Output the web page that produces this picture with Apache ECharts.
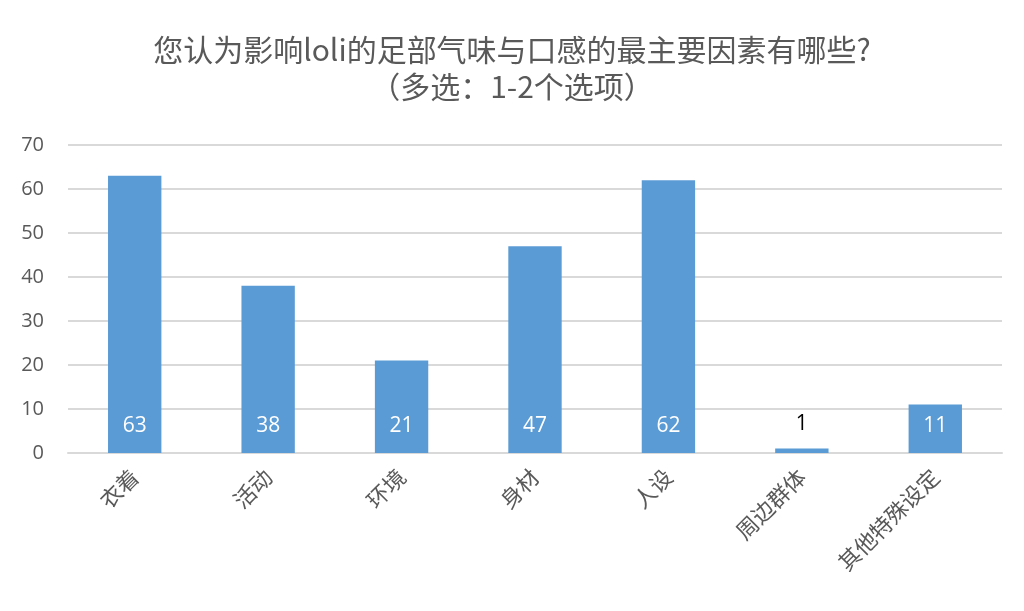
<!DOCTYPE html>
<html lang="zh">
<head>
  <meta charset="UTF-8">
  <title>影响因素</title>
  <style>
    html, body { margin: 0; padding: 0; background: #fff; }
    #box { width: 1024px; height: 611px; }
  </style>
</head>
<body>
  <div id="box"></div>
  <script src="https://cdn.jsdelivr.net/npm/echarts@6/dist/echarts.min.js"></script>
  <script>
    let categories = ['衣着', '活动', '环境', '身材', '人设', '周边群体', '其他特殊设定']
    let values = [63, 38, 21, 47, 62, 1, 11]
    let yTicks = [0, 10, 20, 30, 40, 50, 60, 70]

    let font = '"Open Sans", "Noto Sans CJK SC", sans-serif'
    let myChart = echarts.init(document.getElementById('box'))

    // small bars get the label on top in black, others inside in white
    let barData = values.map(function (v) {
      if (v < 5) {
        return { value: v, label: { position: 'top', distance: 14, color: '#000' } }
      }
      return v
    })

    let option = {
      animation: false,
      textStyle: { fontFamily: font },
      title: {
        text: '您认为影响loli的足部气味与口感的最主要因素有哪些?\n（多选：1-2个选项）',
        left: 'center',
        top: 26,
        textStyle: {
          fontSize: 30,
          fontWeight: 'normal',
          color: '#595959',
          lineHeight: 37,
          fontFamily: '"Noto Sans CJK SC", sans-serif'
        }
      },
      grid: { left: 68, right: 22, top: 145, bottom: 158 },
      xAxis: {
        type: 'category',
        data: categories,
        axisLine: { lineStyle: { color: '#d9d9d9', width: 2 } },
        axisTick: { show: false },
        axisLabel: {
          rotate: 45,
          fontSize: 22,
          color: '#595959',
          margin: 20,
          interval: 0,
          fontFamily: '"Noto Sans CJK SC", sans-serif'
        }
      },
      yAxis: {
        type: 'value',
        min: yTicks[0],
        max: yTicks[yTicks.length - 1],
        interval: 10,
        axisLine: { show: false },
        axisTick: { show: false },
        axisLabel: { fontSize: 20, color: '#595959', margin: 24, fontFamily: font },
        splitLine: { lineStyle: { color: '#d9d9d9', width: 2 } }
      },
      series: [{
        type: 'bar',
        data: barData,
        barWidth: '40%',
        itemStyle: { color: '#5b9bd5' },
        label: {
          show: true,
          position: 'insideBottom',
          distance: 16,
          fontSize: 21,
          color: '#fff',
          fontFamily: font
        }
      }]
    }
    myChart.setOption(option)
  </script>
</body>
</html>
